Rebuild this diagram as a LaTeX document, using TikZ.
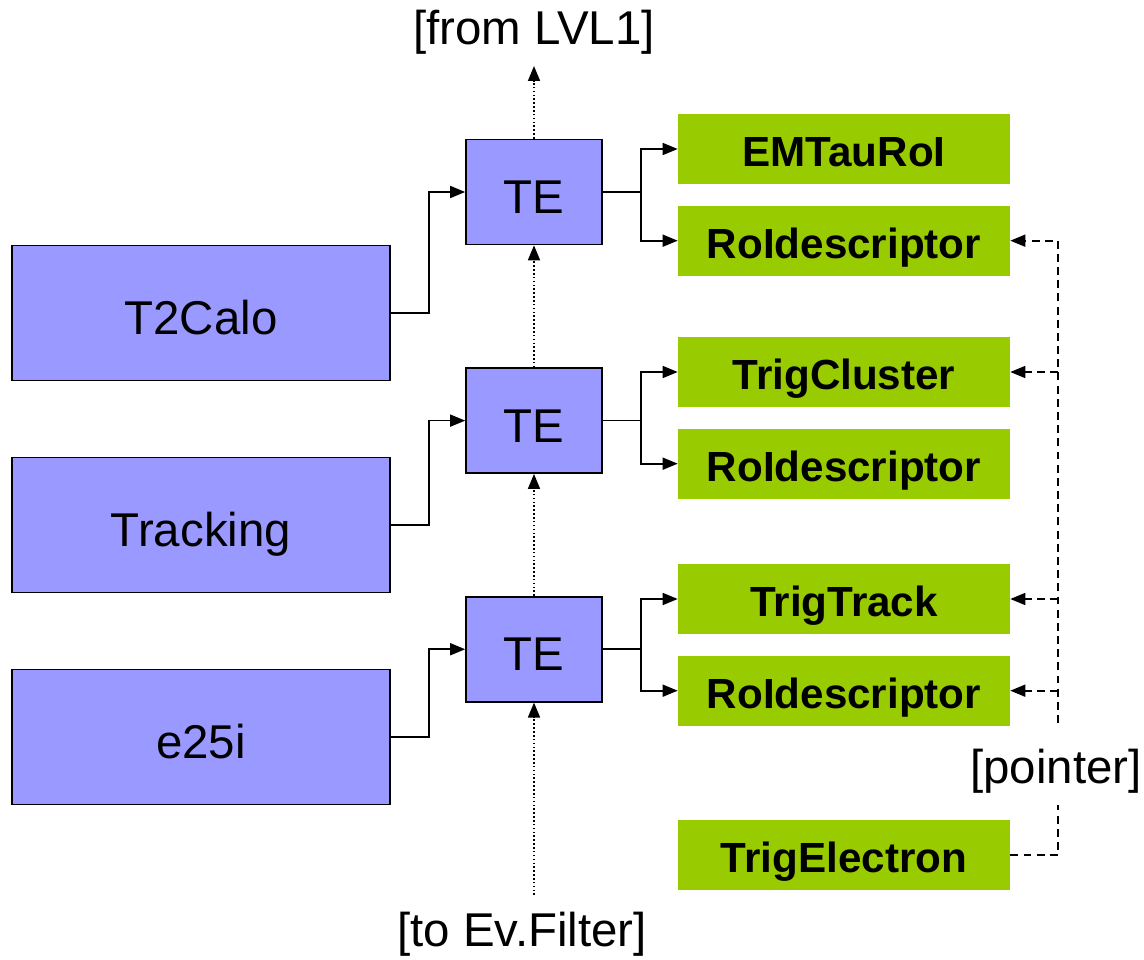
\documentclass[tikz,border=0pt]{standalone}
\usepackage{fontspec}
\setmainfont{Liberation Sans}
\usetikzlibrary{positioning,arrows.meta}
\definecolor{teblue}{HTML}{9999FF}
\definecolor{objgreen}{HTML}{99CC00}

\begin{document}
\begin{tikzpicture}[x=0.02cm,y=-0.02cm,
    algo/.style={draw,fill=teblue,line width=0.95pt,minimum width=7.56cm,minimum height=2.7cm,text height=24.5pt,text depth=0pt,font=\fontsize{27}{32}\selectfont},
    te/.style={algo,minimum width=2.72cm,minimum height=2.1cm},
    obj/.style={fill=objgreen,minimum width=6.64cm,minimum height=1.4cm,text height=20pt,text depth=0pt,font=\bfseries\fontsize{24}{28}\selectfont},
    lbl/.style={font=\fontsize{27}{32}\selectfont},
    link/.style={line width=0.95pt,-{Triangle[length=0.3cm,width=0.24cm]}},
    seed/.style={link,dash pattern=on 0.9pt off 1.3pt},
    ptr/.style={link,dash pattern=on 4.5pt off 3pt},
    node distance=0.42cm]
  \useasboundingbox (0,0) rectangle (1144,960);

  % algorithms
  \node[algo] (calo) at (201,313) {T2Calo};
  \node[algo] (trk) at (201,525) {Tracking};
  \node[algo] (eid) at (201,737) {e25i};

  % trigger elements
  \node[te] (te1) at (534,192) {TE};
  \node[te, below=2.44cm of te1] (te2) {TE};
  \node[te, below=2.44cm of te2] (te3) {TE};

  % features
  \node[obj] (emtau) at (844,149) {EMTauRoI};
  \node[obj, below=of emtau] (roi1) {RoIdescriptor};
  \node[obj] (clus) at (844,372) {TrigCluster};
  \node[obj, below=of clus] (roi2) {RoIdescriptor};
  \node[obj] (trtrack) at (844,599) {TrigTrack};
  \node[obj, below=of trtrack] (roi3) {RoIdescriptor};
  \node[obj] (elec) at (844,855) {TrigElectron};

  % labels
  \node[lbl] (lvl1) at (534,32) {[from LVL1]};
  \node[lbl] (evf) at (522,934) {[to Ev.Filter]};
  \node[lbl] (pointer) at (1056,771) {[pointer]};

  \coordinate (seedtop) at (534,66);
  \coordinate (seedbot) at (534,895);
  \coordinate (ptrbot) at (1058,723);
  \coordinate (ptrtop) at (1058,805);

  % connect the nodes
  \foreach \a/\t in {calo/te1,trk/te2,eid/te3}
    \draw[link] (\a.east) -- ++(38,0) |- (\t.west);
  \foreach \t/\u/\v in {te1/emtau/roi1,te2/clus/roi2,te3/trtrack/roi3} {
    \draw[link] (\t.east) -- ++(38,0) |- (\u.west);
    \draw[link] (\t.east) -- ++(38,0) |- (\v.west);
  }

  \draw[seed] (te1.north) -- (seedtop);
  \draw[seed] (te2.north) -- (te1.south);
  \draw[seed] (te3.north) -- (te2.south);
  \draw[seed] (seedbot) -- (te3.south);

  \draw[ptr] (ptrbot) |- (roi1.east);
  \foreach \o in {clus,trtrack,roi3}
    \draw[ptr] (ptrbot |- \o.east) -- (\o.east);
  \draw[line width=0.95pt,dash pattern=on 4.5pt off 3pt] (elec.east) -| (ptrtop);
\end{tikzpicture}
\end{document}
